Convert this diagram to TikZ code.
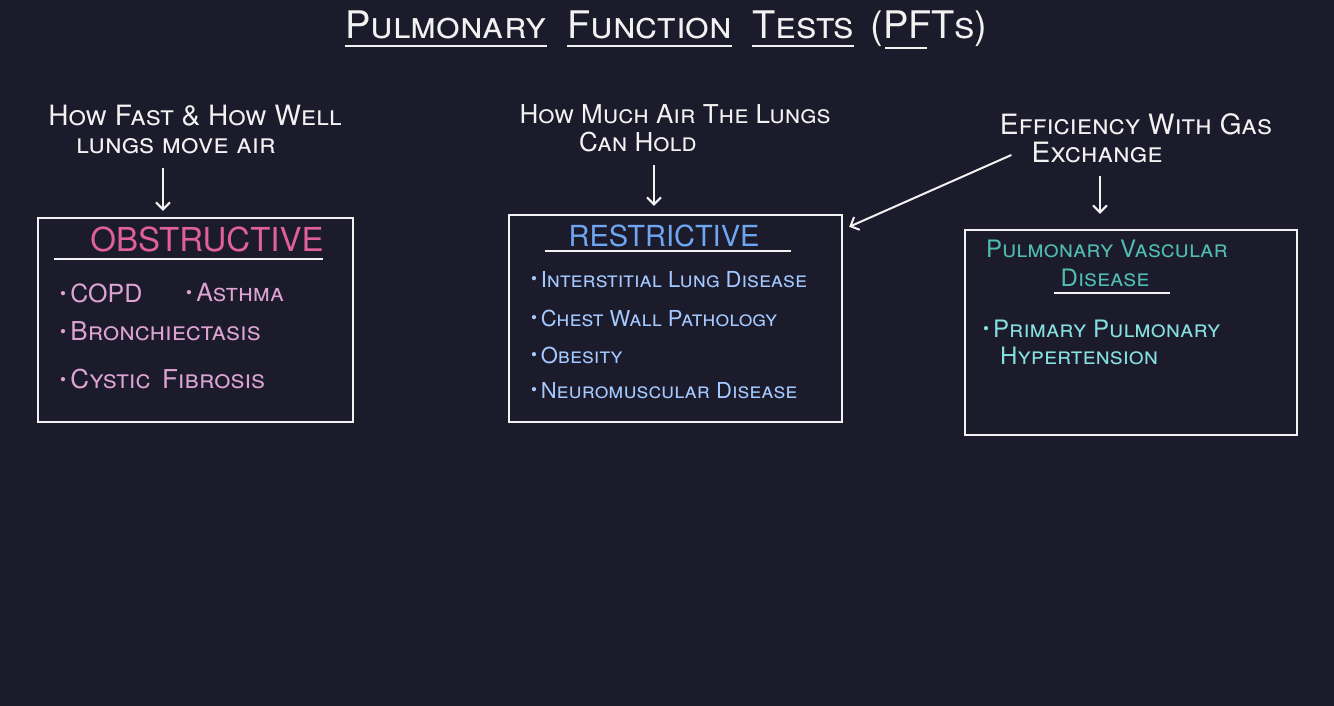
\documentclass[tikz,border=0pt]{standalone}
\usepackage{fontspec}
\setmainfont{TeX Gyre Heros}
\usetikzlibrary{positioning, arrows.meta}
\definecolor{board}{HTML}{1C1B2C}
\definecolor{chalk}{HTML}{F2F2F2}
\definecolor{obsT}{HTML}{E0609A}
\definecolor{obsI}{HTML}{DDA3D3}
\definecolor{resT}{HTML}{6FA6F2}
\definecolor{resI}{HTML}{A3C9FF}
\definecolor{pvdT}{HTML}{4FBDB0}
\definecolor{pvdI}{HTML}{86E0E2}
\tikzstyle{arrow} = [line width=2pt,chalk,-{Straight Barb[length=7pt,width=14pt]}]
\tikzstyle{panel} = [draw=chalk,line width=2.4pt,inner sep=0pt]
\tikzstyle{uline} = [line width=2.2pt,chalk]
\newcommand{\fs}[1]{\fontsize{#1}{#1}\selectfont\scshape}
\newcommand{\pt}{\raisebox{3pt}{\fontsize{17}{17}\selectfont\textbullet}\,}

\begin{document}
\begin{tikzpicture}[x=1pt,y=-1pt,every node/.style={inner sep=0pt,anchor=base}]
	\fill[board] (0,0) rectangle (1334,706);
	% title
	\node[font=\fs{38},chalk,anchor=base west] (pulm) at (345,39) {Pulmonary};
	\node[font=\fs{38},chalk,base right=20pt of pulm] (func) {Function};
	\node[font=\fs{38},chalk,base right=20pt of func] (tests) {Tests};
	\node[font=\fs{38},chalk,base right=16pt of tests] (pfts) {(PFTs)};
	\draw[uline] ([yshift=-7pt]pulm.base west) -- ([yshift=-7pt]pulm.base east);
	\draw[uline] ([yshift=-7pt]func.base west) -- ([yshift=-7pt]func.base east);
	\draw[uline] ([yshift=-7pt]tests.base west) -- ([yshift=-7pt]tests.base east);
	\draw[uline] ([xshift=15pt,yshift=-9pt]pfts.base west) -- ([xshift=-60pt,yshift=-9pt]pfts.base east);
	% headings
	\node[font=\fs{28},chalk] (h1a) at (195,126) {How Fast \& How Well};
	\node[font=\fs{28},chalk] (h1b) at (176,154) {lungs move air};
	\node[font=\fs{26},chalk] (h2a) at (675,124) {How Much Air The Lungs};
	\node[font=\fs{26},chalk] (h2b) at (638,152) {Can Hold};
	\node[font=\fs{28},chalk] (h3a) at (1136,135) {Efficiency With Gas};
	\node[font=\fs{28},chalk] (h3b) at (1097,163) {Exchange};
	% boxes
	\node[panel,minimum width=315pt,minimum height=204pt,anchor=center] (obs) at (195.5,320) {};
	\node[panel,minimum width=333pt,minimum height=207pt,anchor=center] (res) at (675.5,318.5) {};
	\node[panel,minimum width=332pt,minimum height=205pt,anchor=center] (pvd) at (1131,332.5) {};
	% arrows
	\draw[arrow] ([xshift=-13pt,yshift=-14pt]h1b.base) -- ([xshift=-32.5pt,yshift=6pt]obs.north);
	\draw[arrow] ([xshift=16pt,yshift=-13pt]h2b.base) -- ([xshift=-21.5pt,yshift=8pt]res.north);
	\draw[arrow] ([xshift=3pt,yshift=-13pt]h3b.base) -- ([xshift=-31pt,yshift=15pt]pvd.north);
	\draw[arrow] ([xshift=-20pt,yshift=8pt]h3b.base west) -- ([xshift=6pt,yshift=-13pt]res.north east);
	% obstructive
	\node[font=\fontsize{33}{33}\selectfont,obsT] (obst) at (207,251) {OBSTRUCTIVE};
	\draw[uline] ([xshift=17pt,yshift=-42pt]obs.north west) -- ([xshift=-31pt,yshift=-42pt]obs.north east);
	\node[font=\fs{25},obsI,anchor=base west] (copd) at (60,302) {\pt COPD};
	\node[font=\fs{25},obsI,anchor=base west] (asth) at (186,301) {\pt Asthma};
	\node[font=\fs{26},obsI,anchor=base west] (bron) at (60,340) {\pt Bronchiectasis};
	\node[font=\fs{26},obsI,anchor=base west] (cyst) at (60,388) {\pt Cystic\ \,Fibrosis};
	% restrictive
	\node[font=\fontsize{29}{29}\selectfont,resT] (rest) at (664,246) {RESTRICTIVE};
	\draw[uline] ([xshift=37pt,yshift=-37pt]res.north west) -- ([xshift=-52pt,yshift=-37pt]res.north east);
	\node[font=\fs{22},resI,anchor=base west] (ild) at (531,287) {\pt Interstitial Lung Disease};
	\node[font=\fs{22},resI,anchor=base west] (cwp) at (531,326) {\pt Chest Wall Pathology};
	\node[font=\fs{22},resI,anchor=base west] (obes) at (531,363) {\pt Obesity};
	\node[font=\fs{22},resI,anchor=base west] (neur) at (531,398) {\pt Neuromuscular Disease};
	% pulmonary vascular
	\node[font=\fs{24},pvdT] (pvda) at (1107,257) {Pulmonary Vascular};
	\node[font=\fs{24},pvdT] (pvdb) at (1105,286) {Disease};
	\draw[uline] ([xshift=90pt,yshift=-64pt]pvd.north west) -- ([xshift=-128pt,yshift=-64pt]pvd.north east);
	\node[font=\fs{24},pvdI,anchor=base west] (ppa) at (983,337) {\pt Primary Pulmonary};
	\node[font=\fs{24},pvdI,anchor=base west] (ppb) at (1000,364) {Hypertension};
\end{tikzpicture}
\end{document}
